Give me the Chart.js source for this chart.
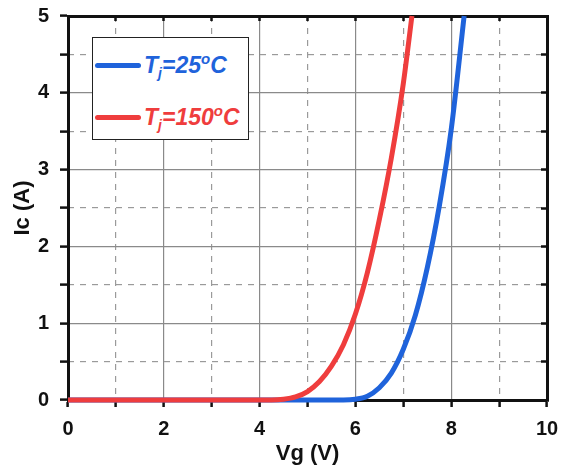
<!DOCTYPE html>
<html lang="en">
  <head>
    <meta charset="UTF-8" />
    <title>Ic vs Vg</title>
    <script src="https://cdn.jsdelivr.net/npm/chart.js"></script>
    <style>
      body { margin: 0; background: #fff; }
      .wrap { position: relative; width: 561px; height: 473px; }
      .legend {
        position: absolute; left: 92px; top: 37px; width: 157px; height: 103px;
        border: 1.5px solid #222; background: #fff; box-sizing: border-box;
        font-family: "Liberation Sans", Arial, sans-serif; font-weight: bold; font-style: italic;
        font-size: 23px;
      }
      .legend .row { position: absolute; left: 2px; height: 30px; display: flex; align-items: center; white-space: nowrap; }
      .legend .swatch { width: 46px; height: 5px; border-radius: 3px; margin-right: 3px; }
      .legend sub { font-size: 14px; position: relative; top: 5px; vertical-align: baseline; }
      .legend sup { font-size: 15px; position: relative; top: -9px; vertical-align: baseline; }
    </style>
  </head>
  <body>
    <div class="wrap">
      <canvas id="ivChart"></canvas>
      <div class="legend">
        <div class="row" style="top: 12px; color: #1f63db">
          <span class="swatch" style="background: #1f63db"></span><span>T<sub>j</sub>=25<sup>o</sup>C</span>
        </div>
        <div class="row" style="top: 64px; color: #ef3d3d">
          <span class="swatch" style="background: #ef3d3d"></span><span>T<sub>j</sub>=150<sup>o</sup>C</span>
        </div>
      </div>
    </div>

    <script>
      // Vg (V) and Ic (A)
      var vg25 = [0, 2, 4, 5.5, 5.75, 6.0, 6.25, 6.5, 6.75, 7.0, 7.25, 7.5, 7.75, 8.0, 8.27];
      var ic25 = [0, 0, 0, 0, 0, 0.01, 0.05, 0.16, 0.35, 0.66, 1.1, 1.72, 2.52, 3.52, 5.0];
      var vg150 = [0, 2, 4.0, 4.25, 4.5, 4.75, 5.0, 5.25, 5.5, 5.75, 6.0, 6.25, 6.5, 6.75, 7.0, 7.18];
      var ic150 = [0, 0, 0, 0, 0.01, 0.04, 0.11, 0.24, 0.44, 0.72, 1.12, 1.66, 2.35, 3.15, 4.12, 5.0];
      var xTickLabels = ["0", "2", "4", "6", "8", "10"];

      function pts(xs, ys) {
        return xs.map(function (x, i) { return { x: x, y: ys[i] }; });
      }

      function noOverhang(s) {
        s.paddingTop = 0;
        s.paddingBottom = 0;
        s.paddingLeft = 0;
        s.paddingRight = 0;
      }

      var tickFont = { family: "'Liberation Sans', Arial, sans-serif", size: 20, weight: "bold" };
      var titleFont = { family: "'Liberation Sans', Arial, sans-serif", size: 22, weight: "bold" };
      var solidGrid = "#8a8a8a";
      var dashGrid = "#9a9a9a";

      var ctx = document.getElementById("ivChart").getContext("2d");
      var ivChart = new Chart(ctx, {
        type: "scatter",
        data: {
          datasets: [
            {
              label: "Tj=25oC",
              data: pts(vg25, ic25),
              showLine: true,
              borderColor: "#1f63db",
              borderWidth: 5,
              pointRadius: 0,
              cubicInterpolationMode: "monotone",
              order: 1,
            },
            {
              label: "Tj=150oC",
              data: pts(vg150, ic150),
              showLine: true,
              borderColor: "#ef3d3d",
              borderWidth: 5,
              pointRadius: 0,
              cubicInterpolationMode: "monotone",
              order: 0,
            },
          ],
        },
        options: {
          responsive: true,
          maintainAspectRatio: false,
          animation: false,
          clip: false,
          layout: { padding: 0 },
          plugins: { legend: { display: false }, tooltip: { enabled: false } },
          scales: {
            x: {
              type: "linear", position: "bottom", min: 0, max: 10, weight: 2,
              ticks: {
                stepSize: 1, font: tickFont, color: "#111", padding: 10, maxRotation: 0,
                callback: function (v) { return v % 2 === 0 ? xTickLabels[v / 2] : ""; },
              },
              grid: {
                color: function (c) { return c.tick && c.tick.value % 2 === 0 ? solidGrid : "rgba(0,0,0,0)"; },
                lineWidth: 1.2, tickColor: "#111", tickLength: 7, tickWidth: 2.5,
              },
              border: { display: true, color: "#111", width: 3 },
              title: { display: true, text: "Vg (V)", font: titleFont, color: "#111", padding: { top: 0, bottom: 6 } },
              afterFit: function (s) { s.height = 73; noOverhang(s); },
            },
            x2: {
              type: "linear", position: "bottom", min: 0, max: 10, weight: 1,
              ticks: { stepSize: 1, display: false },
              grid: {
                color: function (c) { return c.tick && c.tick.value % 2 === 1 ? dashGrid : "rgba(0,0,0,0)"; },
                lineWidth: 1.2, drawTicks: false,
              },
              border: { display: false, dash: [6, 6] },
              afterFit: function (s) { s.height = 0; noOverhang(s); },
            },
            xTop: {
              type: "linear", position: "top", min: 0, max: 10,
              ticks: { stepSize: 1, display: false },
              grid: { drawOnChartArea: false, drawTicks: true, tickLength: -5, tickWidth: 2.5, tickColor: "#111" },
              border: { display: true, color: "#111", width: 3 },
              afterFit: function (s) { s.height = 16; noOverhang(s); },
            },
            y: {
              type: "linear", position: "left", min: 0, max: 5, weight: 2,
              ticks: { stepSize: 0.5, font: tickFont, color: "#111", padding: 11,
                callback: function (v) { return Number.isInteger(v) ? String(v) : ""; } },
              grid: {
                color: function (c) { return c.tick && Number.isInteger(c.tick.value) ? solidGrid : "rgba(0,0,0,0)"; },
                lineWidth: 1.2, tickColor: "#111", tickLength: 8, tickWidth: 2.5,
              },
              border: { display: true, color: "#111", width: 3 },
              title: { display: true, text: "Ic (A)", font: titleFont, color: "#111", padding: { top: 10, bottom: 0 } },
              afterFit: function (s) { s.width = 68; noOverhang(s); },
            },
            y2: {
              type: "linear", position: "left", min: 0, max: 5, weight: 1,
              ticks: { stepSize: 0.5, display: false },
              grid: {
                color: function (c) { return c.tick && !Number.isInteger(c.tick.value) ? dashGrid : "rgba(0,0,0,0)"; },
                lineWidth: 1.2, drawTicks: false,
              },
              border: { display: false, dash: [6, 6] },
              afterFit: function (s) { s.width = 0; noOverhang(s); },
            },
            yRight: {
              type: "linear", position: "right", min: 0, max: 5,
              ticks: { stepSize: 0.5, display: false },
              grid: { drawOnChartArea: false, drawTicks: true, tickLength: -6, tickWidth: 2.5, tickColor: "#111" },
              border: { display: true, color: "#111", width: 3 },
              afterFit: function (s) { s.width = 14; noOverhang(s); },
            },
          },
        },
      });
    </script>
  </body>
</html>
